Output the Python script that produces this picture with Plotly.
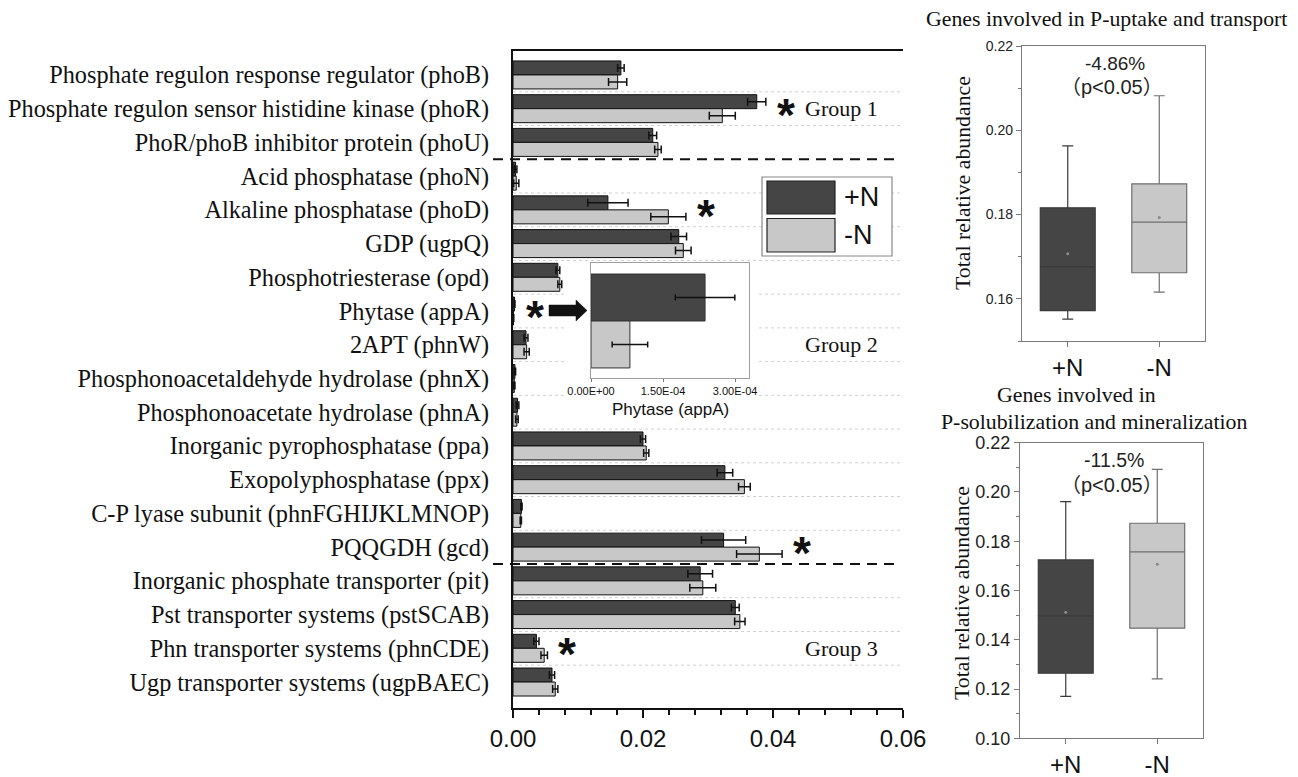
import plotly.graph_objects as go

# ---------------- data ----------------
categories = [
    "Phosphate regulon response regulator (phoB)",
    "Phosphate regulon sensor histidine kinase (phoR)",
    "PhoR/phoB inhibitor protein (phoU)",
    "Acid phosphatase (phoN)",
    "Alkaline phosphatase (phoD)",
    "GDP (ugpQ)",
    "Phosphotriesterase (opd)",
    "Phytase (appA)",
    "2APT (phnW)",
    "Phosphonoacetaldehyde hydrolase (phnX)",
    "Phosphonoacetate hydrolase (phnA)",
    "Inorganic pyrophosphatase (ppa)",
    "Exopolyphosphatase (ppx)",
    "C-P lyase subunit (phnFGHIJKLMNOP)",
    "PQQGDH (gcd)",
    "Inorganic phosphate transporter (pit)",
    "Pst transporter systems (pstSCAB)",
    "Phn transporter systems (phnCDE)",
    "Ugp transporter systems (ugpBAEC)",
]
plus_n = [0.0166, 0.0375, 0.0215, 0.0004, 0.0146, 0.0255, 0.0069, 0.00024, 0.0020, 0.0003,
          0.0007, 0.0200, 0.0326, 0.0013, 0.0324, 0.0288, 0.0342, 0.0036, 0.0060]
plus_err = [0.0005, 0.0014, 0.0006, 0.0002, 0.0031, 0.0012, 0.0003, 0.00006, 0.0003, 0.0001,
            0.0002, 0.0004, 0.0012, 0.0001, 0.0034, 0.0019, 0.0006, 0.0004, 0.0004]
minus_n = [0.0161, 0.0322, 0.0223, 0.0005, 0.0239, 0.0262, 0.0072, 0.00008, 0.0021, 0.0002,
           0.0006, 0.0205, 0.0356, 0.0012, 0.0379, 0.0292, 0.0349, 0.0048, 0.0065]
minus_err = [0.0014, 0.0020, 0.0005, 0.0004, 0.0027, 0.0012, 0.0003, 0.00004, 0.0004, 0.0001,
             0.0002, 0.0004, 0.0009, 0.0001, 0.0035, 0.0020, 0.0008, 0.0005, 0.0004]
sig_rows = [1, 4, 7, 14, 17]
group_breaks = [2.5, 14.5]
group_labels = ["Group 1", "Group 2", "Group 3"]
group_label_rows = [1, 8, 17]

inset_cats = ["+N", "-N"]
inset_vals = [2.375e-4, 8.1e-5]
inset_err = [6.2e-5, 3.7e-5]
inset_ticks = [0, 1.5e-4, 3.0e-4]
inset_ticktext = ["0.00E+00", "1.50E-04", "3.00E-04"]

box_groups = ["+N", "-N"]
up_q1 = [0.1572, 0.1662]
up_med = [0.1676, 0.1782]
up_q3 = [0.1816, 0.1873]
up_low = [0.1552, 0.1616]
up_high = [0.1963, 0.2082]
up_mean = [0.1707, 0.1793]

so_q1 = [0.1264, 0.1447]
so_med = [0.1497, 0.1757]
so_q3 = [0.1724, 0.1873]
so_low = [0.1170, 0.1241]
so_high = [0.1961, 0.2092]
so_mean = [0.1512, 0.1707]

# ---------------- style ----------------
W, H = 1298, 777
DARK = "#454545"
LIGHT = "#c8c8c8"
SERIF = "Liberation Serif, Times New Roman, serif"
SANS = "Liberation Sans, Arial, sans-serif"
CJK = "Noto Sans CJK SC"


def fx(p):
    return p / W


def fy(p):
    return 1 - p / H


def ptext(s):
    return (f'<span style="font-family:{CJK}">（</span>{s}'
            f'<span style="font-family:{CJK}">）</span>')


fig = go.Figure()

# main bars
fig.add_trace(go.Bar(
    y=categories, x=plus_n, orientation="h", name="+N",
    marker=dict(color=DARK, line=dict(color="#111", width=1)),
    error_x=dict(type="data", array=plus_err, color="#111", thickness=1.5, width=4),
    xaxis="x", yaxis="y"))
fig.add_trace(go.Bar(
    y=categories, x=minus_n, orientation="h", name="-N",
    marker=dict(color=LIGHT, line=dict(color="#111", width=1)),
    error_x=dict(type="data", array=minus_err, color="#111", thickness=1.5, width=4),
    xaxis="x", yaxis="y"))

# inset bars
fig.add_trace(go.Bar(
    y=inset_cats, x=inset_vals, orientation="h", width=[1, 1],
    marker=dict(color=[DARK, LIGHT], line=dict(color="#333", width=1)),
    error_x=dict(type="data", array=inset_err, color="#111", thickness=1.5, width=3),
    xaxis="x2", yaxis="y2"))

# box plots
for ax, q1, med, q3, lo, hi, mn in [
    ("3", up_q1, up_med, up_q3, up_low, up_high, up_mean),
    ("4", so_q1, so_med, so_q3, so_low, so_high, so_mean),
]:
    for i, g in enumerate(box_groups):
        fig.add_trace(go.Box(
            x=[g], q1=[q1[i]], median=[med[i]], q3=[q3[i]],
            lowerfence=[lo[i]], upperfence=[hi[i]],
            fillcolor=DARK if i == 0 else LIGHT,
            line=dict(color="#3a3a3a" if i == 0 else "#6f6f6f", width=1.2),
            width=0.6, whiskerwidth=0.2,
            xaxis="x" + ax, yaxis="y" + ax))
    fig.add_trace(go.Scatter(
        x=box_groups, y=mn, mode="markers",
        marker=dict(size=3, color="#8a8a8a"),
        xaxis="x" + ax, yaxis="y" + ax))

shapes = []
annotations = []

# dotted gridlines at row boundaries (split around inset)
inset_left, inset_right = (565 - 513) / 6500, (759 - 513) / 6500
for k in range(len(categories) - 1):
    yb = k + 0.5
    if yb in group_breaks:
        continue
    if 5.6 < yb < 10.0:
        segs = [(0, inset_left), (inset_right, 0.06)]
    else:
        segs = [(0, 0.06)]
    for a, b in segs:
        shapes.append(dict(type="line", xref="x", yref="y", x0=a, x1=b, y0=yb, y1=yb,
                           line=dict(color="#d0d0d0", width=1, dash="dot"), layer="below"))

# dashed group separators
for yb in group_breaks:
    shapes.append(dict(type="line", xref="paper", yref="y", x0=fx(493), x1=fx(895),
                       y0=yb, y1=yb, line=dict(color="#111", width=2.2, dash="10px,7px")))

# asterisks
for r in sig_rows:
    xv = max(plus_n[r] + plus_err[r], minus_n[r] + minus_err[r])
    annotations.append(dict(x=xv, y=r, xref="x", yref="y", text="<b>*</b>", showarrow=False,
                            xanchor="left", yanchor="middle", xshift=9, yshift=-6,
                            font=dict(family=SANS, size=46, color="#111")))

# group labels
for lab, r in zip(group_labels, group_label_rows):
    annotations.append(dict(x=fx(842), y=r, xref="paper", yref="y", text=lab, showarrow=False,
                            xanchor="center", yanchor="middle",
                            font=dict(family=SERIF, size=22, color="#111")))

# legend
shapes.append(dict(type="rect", xref="paper", yref="paper", x0=fx(762), x1=fx(892),
                   y0=fy(256), y1=fy(177), line=dict(color="#888", width=1.2), fillcolor="white"))
for (y0, y1, col, lab) in [(181, 214, DARK, "+N"), (218.5, 252, LIGHT, "-N")]:
    shapes.append(dict(type="rect", xref="paper", yref="paper", x0=fx(767), x1=fx(835),
                       y0=fy(y1), y1=fy(y0), line=dict(color="#222", width=1.2), fillcolor=col))
    annotations.append(dict(x=fx(842), y=fy((y0 + y1) / 2), xref="paper", yref="paper", text=lab,
                            showarrow=False, xanchor="left", yanchor="middle",
                            font=dict(family=SANS, size=27, color="#111")))

# arrow to inset
ax0, ax1, ah = 549, 587, 576
yc = 310.5
path = (f"M {fx(ax0)} {fy(yc-5.5)} L {fx(ah)} {fy(yc-5.5)} L {fx(ah)} {fy(yc-10.5)} "
        f"L {fx(ax1)} {fy(yc)} L {fx(ah)} {fy(yc+10.5)} L {fx(ah)} {fy(yc+5.5)} "
        f"L {fx(ax0)} {fy(yc+5.5)} Z")
shapes.append(dict(type="path", xref="paper", yref="paper", path=path,
                   fillcolor="#111", line=dict(color="#111", width=0.5)))


def note(xp, yp, text, family, size, angle=0, color="#111"):
    return dict(x=fx(xp), y=fy(yp), xref="paper", yref="paper", text=text, showarrow=False,
                xanchor="center", yanchor="middle", textangle=angle,
                font=dict(family=family, size=size, color=color))


annotations += [
    note(670, 409, "Phytase (appA)", SANS, 17),
    note(1106, 19, "Genes involved in P-uptake and transport", SERIF, 21.8),
    note(1076, 395, "Genes involved in", SERIF, 21.8),
    note(1094, 422, "P-solubilization and mineralization", SERIF, 21.8),
    note(1115, 63, "-4.86%", SANS, 19, color="#222"),
    note(1112, 86, ptext("p&lt;0.05"), SANS, 20, color="#222"),
    note(1114, 460, "-11.5%", SANS, 19.5, color="#222"),
    note(1112, 483, ptext("p&lt;0.05"), SANS, 20, color="#222"),
    note(963, 183, "Total relative abundance", SERIF, 21.8, angle=-90),
    note(962, 593, "Total relative abundance", SERIF, 21.8, angle=-90),
]

ROW_TOP, ROW_BOT = -0.71, 18.77

fig.update_layout(
    template="none",
    width=W, height=H, autosize=False,
    margin=dict(l=0, r=0, t=0, b=0, pad=0),
    paper_bgcolor="white", plot_bgcolor="white",
    showlegend=False, barmode="group", bargap=0.17, bargroupgap=0,
    shapes=shapes, annotations=annotations,
    xaxis=dict(domain=[fx(513), fx(903)], anchor="y", range=[0, 0.06], dtick=0.02, tick0=0,
               automargin=False,
               tickformat=".2f", showgrid=False, zeroline=False, showline=True, mirror=True,
               linecolor="#111", linewidth=2, ticks="outside", ticklen=8, tickwidth=2,
               tickcolor="#111", tickfont=dict(family=SANS, size=24, color="#111"),
               minor=dict(dtick=0.004, tick0=0, ticks="outside", ticklen=5, tickwidth=1.5,
                          tickcolor="#111", showgrid=False)),
    yaxis=dict(domain=[fy(708), fy(51)], anchor="x", type="category", automargin=False,
               categoryorder="array", categoryarray=categories, range=[ROW_BOT, ROW_TOP],
               showgrid=False, zeroline=False, showline=True, linecolor="#111", linewidth=2,
               ticks="", ticklabelstandoff=17,
               tickfont=dict(family=SERIF, size=24.3, color="#111")),
    xaxis2=dict(domain=[fx(591), fx(749)], anchor="y2", range=[0, 3.29e-4], automargin=False,
                tickvals=inset_ticks, ticktext=inset_ticktext, showgrid=False, zeroline=False,
                showline=True, mirror=True, linecolor="#a0a0a0", linewidth=1.2,
                ticks="outside", ticklen=3, tickcolor="#777",
                tickfont=dict(family=SANS, size=11, color="#111")),
    yaxis2=dict(domain=[fy(378), fy(263)], anchor="x2", type="category", automargin=False,
                categoryorder="array", categoryarray=inset_cats, range=[1.714, -0.735],
                showgrid=False, zeroline=False, showline=True, mirror=True,
                linecolor="#a0a0a0", linewidth=1.2, showticklabels=False, ticks=""),
    xaxis3=dict(domain=[fx(1022), fx(1205)], anchor="y3", type="category", automargin=False,
                categoryorder="array", categoryarray=box_groups, range=[-0.5, 1.5],
                showgrid=False, zeroline=False, showline=True, mirror=True,
                linecolor="#7a7a7a", linewidth=1.3, ticks="outside", ticklen=5,
                tickcolor="#7a7a7a", tickfont=dict(family=SANS, size=24, color="#111")),
    yaxis3=dict(domain=[fy(341), fy(46)], anchor="x3", range=[0.15, 0.22], dtick=0.02,
                automargin=False,
                tickformat=".2f", showgrid=False, zeroline=False, showline=True, mirror=True,
                linecolor="#7a7a7a", linewidth=1.3, ticks="outside", ticklen=5,
                tickcolor="#7a7a7a", tickfont=dict(family=SANS, size=14, color="#222"),
                minor=dict(dtick=0.01, ticks="outside", ticklen=3, tickcolor="#7a7a7a",
                           showgrid=False)),
    xaxis4=dict(domain=[fx(1020), fx(1203)], anchor="y4", type="category", automargin=False,
                categoryorder="array", categoryarray=box_groups, range=[-0.5, 1.5],
                showgrid=False, zeroline=False, showline=True, mirror=True,
                linecolor="#7a7a7a", linewidth=1.3, ticks="outside", ticklen=5,
                tickcolor="#7a7a7a", tickfont=dict(family=SANS, size=24, color="#111")),
    yaxis4=dict(domain=[fy(738.3), fy(442.7)], anchor="x4", range=[0.10, 0.22], dtick=0.02,
                automargin=False,
                tickformat=".2f", showgrid=False, zeroline=False, showline=True, mirror=True,
                linecolor="#7a7a7a", linewidth=1.3, ticks="outside", ticklen=5,
                tickcolor="#7a7a7a", tickfont=dict(family=SANS, size=18, color="#222"),
                minor=dict(dtick=0.01, ticks="outside", ticklen=3, tickcolor="#7a7a7a",
                           showgrid=False)),
)

fig.write_html("out.html", config={"displayModeBar": False},
               post_script="document.body.style.margin='0px';")
